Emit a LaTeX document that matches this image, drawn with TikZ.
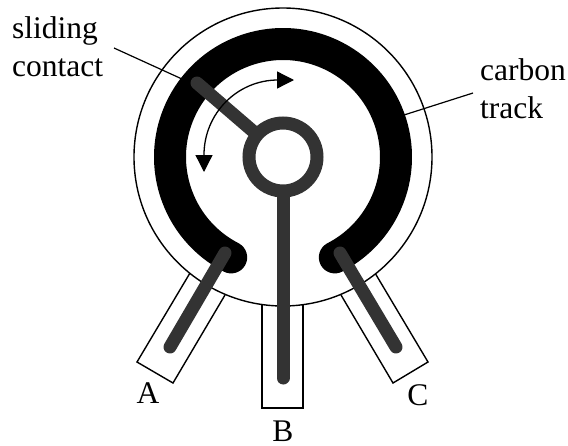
\documentclass[tikz,border=0pt]{standalone}
\usepackage{fontspec}
\setmainfont{Liberation Serif}
\usetikzlibrary{arrows.meta}
\definecolor{wiperdark}{HTML}{333333}
\tikzset{
  outline/.style={draw=black,line width=1.4pt},
  wiper/.style={draw=wiperdark,line width=13pt,line cap=round},
  leader/.style={draw=black,line width=1.2pt},
  lbl/.style={font=\fontsize{31.5}{37.5}\selectfont,inner sep=0pt,anchor=base},
  lblwide/.style={lbl,align=left,anchor=base west}
}
\begin{document}
\begin{tikzpicture}[x=1pt,y=-1pt]
  \useasboundingbox (0,0) rectangle (568,445);
  % Coordinates
  \coordinate (hub) at (283,157);
  \coordinate (a1) at (190,273);
  \coordinate (a2) at (137,362);
  \coordinate (a3) at (173,383);
  \coordinate (a4) at (225,295);
  \coordinate (b1) at (262,300);
  \coordinate (b2) at (262,408);
  \coordinate (b3) at (303,408);
  \coordinate (b4) at (303,300);
  \coordinate (c1) at (375,273);
  \coordinate (c2) at (428,362);
  \coordinate (c3) at (393,383);
  \coordinate (c4) at (341,295);
  \coordinate (wipeA1) at (225,253);
  \coordinate (wipeA2) at (170,347);
  \coordinate (wipeB) at (283,378);
  \coordinate (wipeC1) at (340,253);
  \coordinate (wipeC2) at (396,347);
  \coordinate (wipeS) at (197,83);
  \coordinate (slideFrom) at (114,48);
  \coordinate (slideEnd) at (182,79);
  \coordinate (trackFrom) at (473,93);
  \coordinate (trackEnd) at (404,115);
  \coordinate (moveDown) at (204,172);
  \coordinate (moveBend) at (204,155);
  \coordinate (moveRight) at (294,80);
  % Terminals
  \draw[outline,fill=white] (a1) -- (a2) -- (a3) -- (a4);
  \draw[outline,fill=white] (b1) -- (b2) -- (b3) -- (b4);
  \draw[outline,fill=white] (c1) -- (c2) -- (c3) -- (c4);
  % Body and carbon track
  \draw[outline,fill=white] (hub) circle (149);
  \draw[black,line width=32pt,line cap=round]
    (hub) ++(117.3:113) arc[start angle=117.3,end angle=422.7,radius=113];
  % Wipers
  \draw[wiper] (wipeA1) -- (wipeA2);
  \draw[wiper] (wipeC1) -- (wipeC2);
  \draw[wiper] (hub) -- (wipeB);
  \draw[wiper] (hub) -- (wipeS);
  \node[circle,draw=wiperdark,fill=white,line width=13pt,minimum size=68pt,inner sep=0pt] (hubring) at (hub) {};
  % Movement arrow
  \draw[black,line width=1.3pt,{Triangle[length=17pt,width=17pt]}-{Triangle[length=17pt,width=17pt]}]
    (moveDown) -- (moveBend) arc[start angle=180,end angle=270,x radius=74,y radius=75] -- (moveRight);
  % Labels
  \node[lblwide] (sliding) at (12,76) {sliding\\contact};
  \node[lblwide] (carbon) at (480,118) {carbon\\track};
  \node[lbl] (labA) at (148,403) {A};
  \node[lbl] (labB) at (283,441) {B};
  \node[lbl] (labC) at (418,405) {C};
  % Leader lines
  \draw[leader] (slideFrom) -- (slideEnd);
  \draw[leader] (trackFrom) -- (trackEnd);
\end{tikzpicture}
\end{document}
